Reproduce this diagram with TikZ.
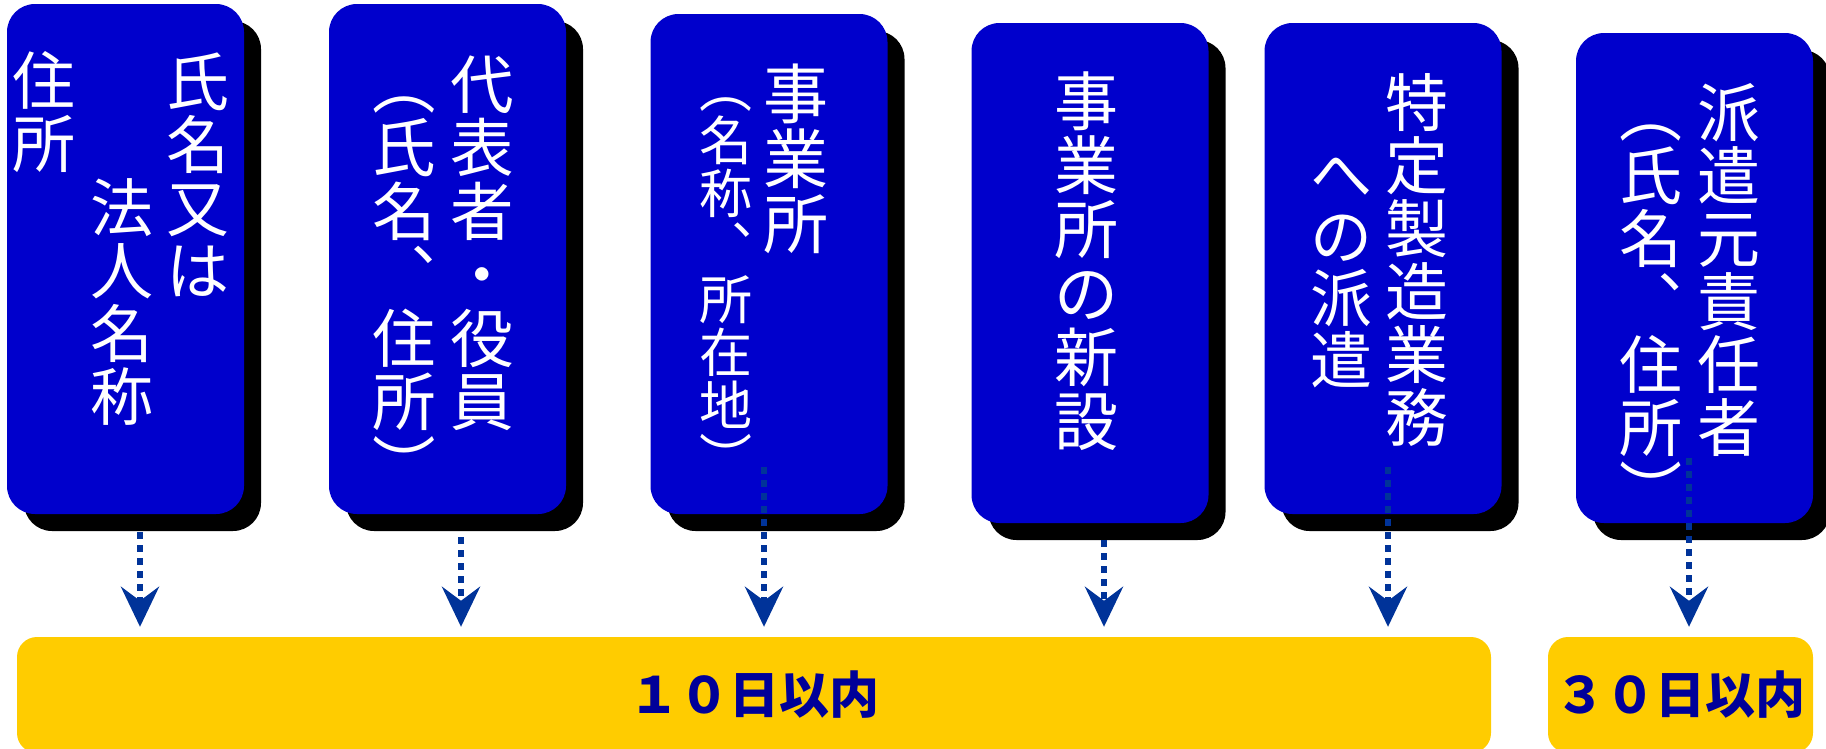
\documentclass[tikz,border=0pt]{standalone}
\usepackage{fontspec}
\setmainfont{Noto Sans CJK JP}
\usetikzlibrary{arrows.meta}
\definecolor{boxblue}{HTML}{0000CC}
\definecolor{arrowblue}{HTML}{003399}
\definecolor{baryellow}{HTML}{FFCC00}
\definecolor{bartext}{HTML}{000099}
\newlength\vpitch
\newcommand\vc[1]{\hbox to\vpitch{\hss\vrule width0pt height.88\vpitch depth.12\vpitch#1\hss}}
\makeatletter
\newcommand\vtext[2]{\vbox{\setlength\vpitch{#1}\fontsize{#1}{#1}\selectfont\baselineskip=\vpitch\lineskiplimit=-\maxdimen\lineskip=0pt\relax\@tfor\vx:=#2\do{\vc{\vx}}}}
\makeatother
\begin{document}
\begin{tikzpicture}[x=1pt,y=-1pt,
  shadowbox/.style={fill=black, rounded corners=28pt, inner sep=0pt, minimum width=237pt},
  bluebox/.style={fill=boxblue, rounded corners=28pt, inner sep=0pt, minimum width=237pt},
  vtxt/.style={text=white, inner sep=0pt, anchor=north},
  arr/.style={draw=arrowblue, line width=6pt, dash pattern=on 7pt off 6pt, -{Stealth[length=40pt,width=38pt,inset=14pt]}, shorten >=10pt},
  bar/.style={fill=baryellow, rounded corners=20pt, inner sep=0pt, minimum height=116pt, text=bartext, font=\fontsize{50}{50}\selectfont\bfseries}]
\useasboundingbox (0,0) rectangle (1826,748);
% shadows
\node[shadowbox, minimum height=510pt] (sh1) at (142.5,276) {};
\node[shadowbox, minimum height=510pt] (sh2) at (464.5,276) {};
\node[shadowbox, minimum height=500pt] (sh3) at (786,281) {};
\node[shadowbox, minimum height=500pt] (sh4) at (1107,290) {};
\node[shadowbox, minimum height=491pt] (sh5) at (1400,285.5) {};
\node[shadowbox, minimum height=490pt] (sh6) at (1711.5,295) {};
% boxes
\node[bluebox, minimum height=510pt] (b1) at (125.5,259) {};
\node[bluebox, minimum height=510pt] (b2) at (447.5,259) {};
\node[bluebox, minimum height=500pt] (b3) at (769,264) {};
\node[bluebox, minimum height=500pt] (b4) at (1090,273) {};
\node[bluebox, minimum height=491pt] (b5) at (1383,268.5) {};
\node[bluebox, minimum height=490pt] (b6) at (1694.5,278) {};
% texts
\node[vtxt] (t1a) at (198,50) {\vtext{63pt}{氏名又は}};
\node[vtxt] (t1b) at (122,50) {\vtext{63pt}{　　法人名称}};
\node[vtxt] (t1c) at (44,49) {\vtext{63pt}{住所}};
\node[vtxt] (t2a) at (482,52) {\vtext{63.5pt}{代表者・役員}};
\node[vtxt] (t2b) at (404,52) {\vtext{63.5pt}{︵氏名︑住所︶}};
\node[vtxt] (t3a) at (796,61) {\vtext{65pt}{事業所}};
\node[vtxt] (t3b) at (726,61) {\vtext{53pt}{︵名称︑所在地︶}};
\node[vtxt] (t4a) at (1086,69) {\vtext{64pt}{事業所の新設}};
\node[vtxt] (t5a) at (1417,71) {\vtext{63pt}{特定製造業務}};
\node[vtxt] (t5b) at (1341,81) {\vtext{62pt}{　への派遣}};
\node[vtxt] (t6a) at (1729,81) {\vtext{63pt}{派遣元責任者}};
\node[vtxt] (t6b) at (1651,81) {\vtext{63pt}{︵氏名︑住所︶}};
% bars
\node[bar, minimum width=1474pt] (bar1) at (754,695) {１０日以内};
\node[bar, minimum width=265pt] (bar2) at (1680.5,695) {３０日以内};
% arrows
\coordinate (a1) at (140,532);
\coordinate (a2) at (461,537);
\coordinate (a3) at (764,467);
\coordinate (a4) at (1104,540);
\coordinate (a5) at (1388,467);
\coordinate (a6) at (1689,458);
\draw[arr] (a1) -- (a1 |- bar1.north);
\draw[arr] (a2) -- (a2 |- bar1.north);
\draw[arr] (a3) -- (a3 |- bar1.north);
\draw[arr] (a4) -- (a4 |- bar1.north);
\draw[arr] (a5) -- (a5 |- bar1.north);
\draw[arr] (a6) -- (a6 |- bar2.north);
\end{tikzpicture}
\end{document}
